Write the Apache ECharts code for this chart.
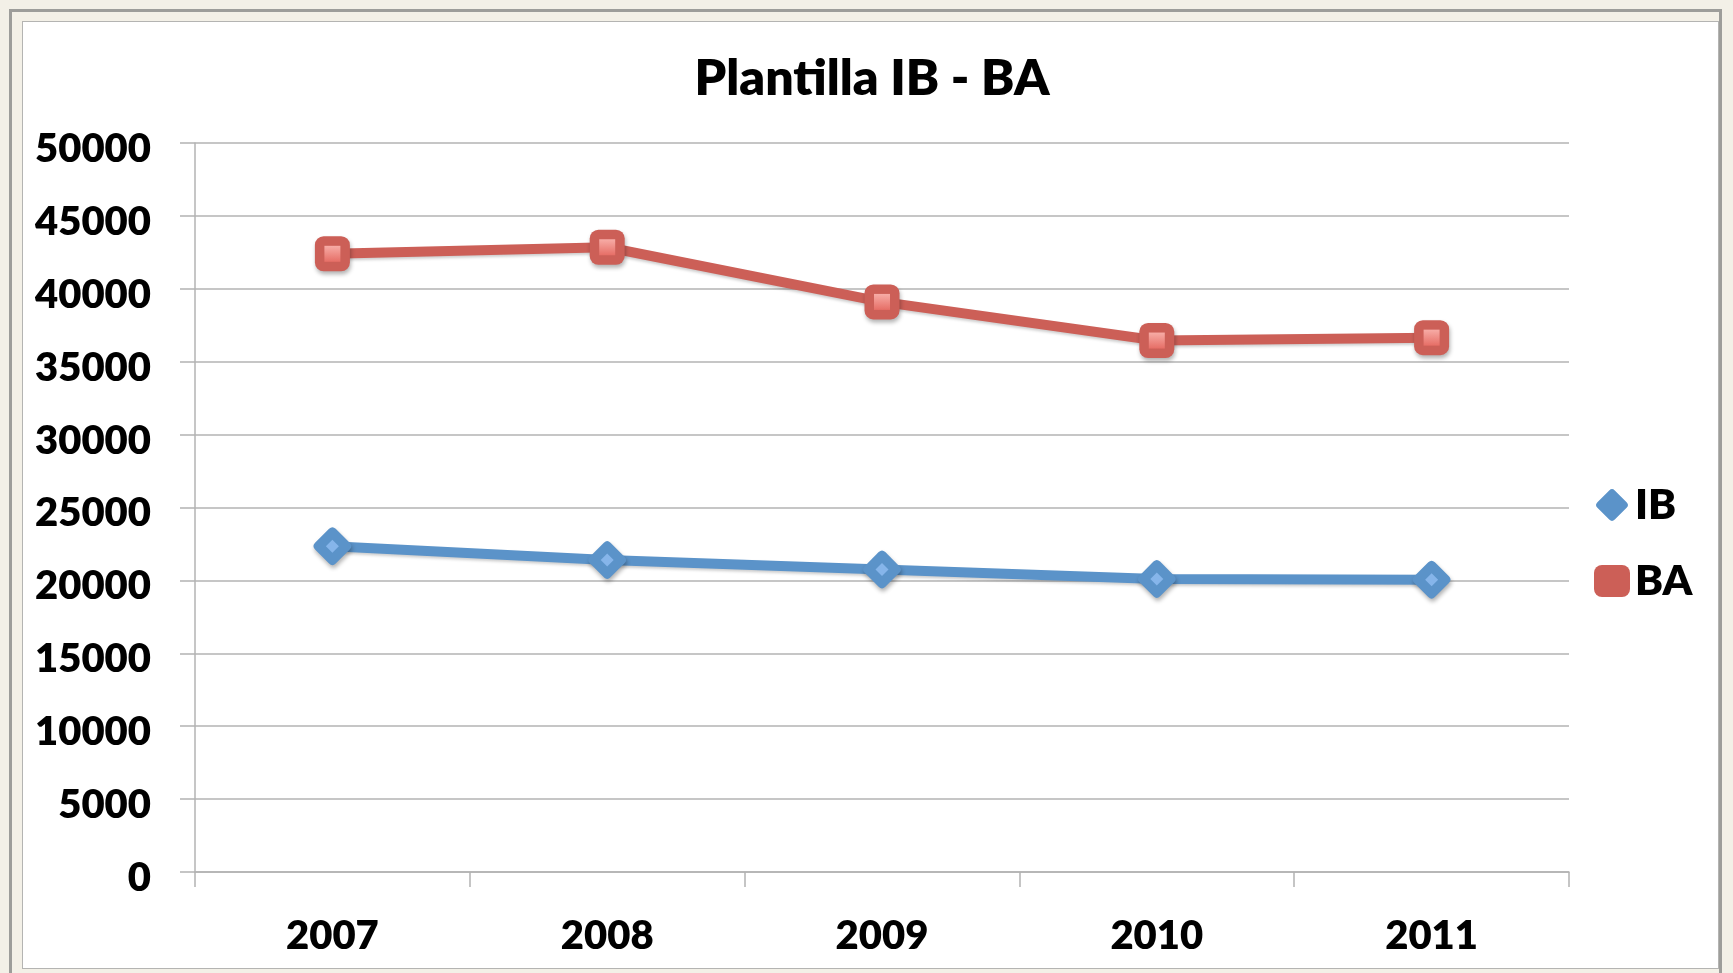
<!DOCTYPE html>
<html>
<head>
<meta charset="utf-8">
<script src="https://cdn.jsdelivr.net/npm/echarts@6/dist/echarts.min.js"></script>
<style>
  html, body { margin: 0; padding: 0; width: 1733px; height: 973px; overflow: hidden; background: #f3f0e7; }
  #frame { position: absolute; left: 9px; top: 9px; width: 1707px; height: 975px; border: 3px solid #9d9d9a; border-bottom: none; box-sizing: content-box; }
  #panel { position: absolute; left: 22px; top: 21px; width: 1695px; height: 946px; background: #ffffff; border: 1px solid #b4b4b2; }
  #chart { position: absolute; left: 0; top: 0; width: 1733px; height: 973px; }
</style>
</head>
<body>
<div id="frame"></div>
<div id="panel"></div>
<div id="chart"></div>
<script>
const titleText = 'Plantilla IB - BA';
const categories = ['2007', '2008', '2009', '2010', '2011'];
const seriesNames = ['IB', 'BA'];
const ibValues = [22350, 21400, 20750, 20100, 20050];
const baValues = [42400, 42850, 39100, 36450, 36650];
const yTicks = { min: 0, max: 50000, interval: 5000 };

const blue = '#5b93c9';
const red = '#cc5f57';
const fontFamily = 'Lato, "Open Sans", sans-serif';
const weight = 800;
const roundDiamond = 'path://M8.4,1.6 Q10,0 11.6,1.6 L18.4,8.4 Q20,10 18.4,11.6 L11.6,18.4 Q10,20 8.4,18.4 L1.6,11.6 Q0,10 1.6,8.4 Z';

const chart = echarts.init(document.getElementById('chart'), null, { renderer: 'canvas' });

const shadow = { shadowBlur: 4, shadowColor: 'rgba(0,0,0,0.3)', shadowOffsetX: 1, shadowOffsetY: 3 };

chart.setOption({
  backgroundColor: 'transparent',
  animation: false,
  title: {
    text: titleText,
    left: 867,
    textAlign: 'center',
    top: 49,
    textStyle: { fontFamily, fontWeight: weight, fontSize: 50, color: '#000' }
  },
  legend: {
    data: [
      { name: 'IB', icon: roundDiamond, itemStyle: { color: blue } },
      { name: 'BA', icon: 'roundRect', itemStyle: { color: red } }
    ],
    orient: 'vertical',
    left: 1594,
    top: 484,
    itemWidth: 36,
    itemHeight: 32,
    itemGap: 34,
    padding: 0,
    textStyle: { fontFamily, fontWeight: weight, fontSize: 42, color: '#000', padding: [4, 0, 0, 0] }
  },
  grid: { left: 195, right: 164, top: 143, bottom: 101, containLabel: false },
  xAxis: {
    type: 'category',
    data: categories,
    boundaryGap: true,
    axisLine: { show: true, lineStyle: { color: '#b3b3b3', width: 1.5 } },
    axisTick: { show: true, alignWithLabel: false, length: 15, lineStyle: { color: '#b3b3b3', width: 1.5 } },
    axisLabel: { margin: 44, fontFamily, fontWeight: weight, fontSize: 40, color: '#000' },
    splitLine: { show: false }
  },
  yAxis: {
    type: 'value',
    min: yTicks.min,
    max: yTicks.max,
    interval: yTicks.interval,
    axisLine: { show: true, lineStyle: { color: '#b3b3b3', width: 1.5 } },
    axisTick: { show: true, length: 15, lineStyle: { color: '#b3b3b3', width: 1.5 } },
    axisLabel: { margin: 44, fontFamily, fontWeight: weight, fontSize: 40, color: '#000',
      verticalAlign: 'top', lineHeight: 12,
      formatter: (v) => String(v) },
    splitLine: { show: true, lineStyle: { color: '#b3b3b3', width: 1.5 } }
  },
  series: [
    {
      name: 'IB',
      type: 'line',
      data: ibValues,
      symbol: roundDiamond,
      symbolSize: 38,
      lineStyle: { color: blue, width: 10, shadowBlur: 3, shadowColor: 'rgba(0,0,0,0.2)', shadowOffsetY: 2 },
      itemStyle: Object.assign({ color: blue }, shadow),
      z: 2
    },
    {
      name: 'BA',
      type: 'line',
      data: baValues,
      symbol: 'roundRect',
      symbolSize: 35,
      lineStyle: { color: red, width: 10, shadowBlur: 3, shadowColor: 'rgba(0,0,0,0.2)', shadowOffsetY: 2 },
      itemStyle: Object.assign({ color: red }, shadow),
      z: 2
    },
    {
      name: 'IB-hl',
      type: 'line',
      data: ibValues,
      symbol: 'diamond',
      symbolSize: 13,
      silent: true,
      lineStyle: { opacity: 0 },
      itemStyle: { color: '#86b5ea' },
      z: 3
    },
    {
      name: 'BA-hl',
      type: 'line',
      data: baValues,
      symbol: 'rect',
      symbolSize: 16,
      silent: true,
      lineStyle: { opacity: 0 },
      itemStyle: {
        color: { type: 'linear', x: 0, y: 0, x2: 0, y2: 1,
          colorStops: [{ offset: 0, color: '#f7aca6' }, { offset: 1, color: '#e66e66' }] }
      },
      z: 3
    }
  ]
});
</script>
</body>
</html>
